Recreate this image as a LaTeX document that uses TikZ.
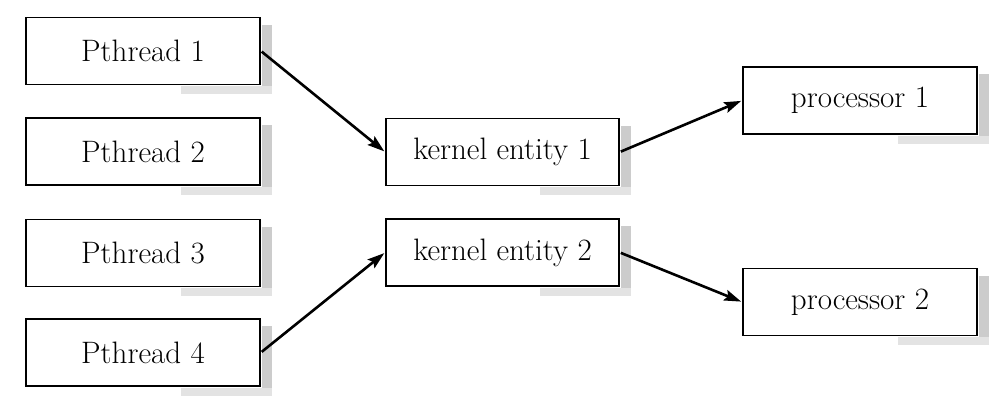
\documentclass[tikz,border=0pt]{standalone}
\usetikzlibrary{arrows.meta,calc,backgrounds}
\begin{document}
\begin{tikzpicture}[x=1pt,y=-1pt,
  box/.style={draw=black, line width=1.8pt, fill=white, rectangle,
    minimum width=234pt, minimum height=67pt, inner sep=0pt,
    font=\fontsize{31}{36}\selectfont},
  shade/.style={fill=gray!40},
  shadelight/.style={fill=gray!22},
  conn/.style={line width=2.6pt, -{Stealth[length=17pt,width=11pt,inset=3pt]}, shorten <=1pt, shorten >=1pt}]
\useasboundingbox (0,0) rectangle (997,406);
\node[box] (p1) at (143,51) {Pthread 1};
\node[box] (p2) at (143,151.5) {Pthread 2};
\node[box] (p3) at (143,253) {Pthread 3};
\node[box] (p4) at (143,352.5) {Pthread 4};
\node[box, minimum width=233pt] (k1) at (502.5,152) {kernel entity 1};
\node[box, minimum width=233pt] (k2) at (502.5,252.5) {kernel entity 2};
\node[box] (c1) at (860,100.5) {processor 1};
\node[box] (c2) at (860,302) {processor 2};
\begin{scope}[on background layer]
\foreach \n in {p1,p2,p3,p4,k1,k2,c1,c2}{
  \fill[shade] ($(\n.north east)+(1,8)$) rectangle ($(\n.south east)+(11,4)$);
  \fill[shadelight] ($(\n.south east)+(-80,1)$) rectangle ($(\n.south east)+(11,9)$);
}
\end{scope}
\draw[conn] (p1.east) -- (k1.west);
\draw[conn] (p4.east) -- (k2.west);
\draw[conn] (k1.east) -- (c1.west);
\draw[conn] (k2.east) -- (c2.west);
\end{tikzpicture}
\end{document}
